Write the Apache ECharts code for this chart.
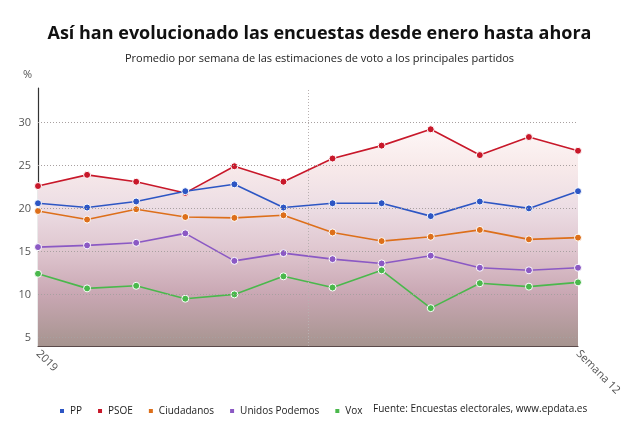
<!DOCTYPE html>
<html>
<head>
<meta charset="utf-8">
<script src="https://cdn.jsdelivr.net/npm/echarts@6/dist/echarts.min.js"></script>
<style>
html,body{margin:0;padding:0;background:#fff;}
#chart{width:639px;height:431px;}
</style>
</head>
<body>
<div id="chart"></div>
<script>
const weeks = [0,1,2,3,4,5,6,7,8,9,10,11];
const xLabels = {0: '2019', 11: 'Semana 12'};
const yTicks = [5,10,15,20,25,30];
const divider = 5.5;

const seriesNames = ['PP','PSOE','Ciudadanos','Unidos Podemos','Vox'];
const pp      = [20.6,20.1,20.8,22.0,22.8,20.1,20.6,20.6,19.1,20.8,20.0,22.0];
const psoe    = [22.6,23.9,23.1,21.8,24.9,23.1,25.8,27.3,29.2,26.2,28.3,26.7];
const cs      = [19.7,18.7,19.9,19.0,18.9,19.2,17.2,16.2,16.7,17.5,16.4,16.6];
const up      = [15.5,15.7,16.0,17.1,13.9,14.8,14.1,13.6,14.5,13.1,12.8,13.1];
const vox     = [12.4,10.7,11.0,9.5,10.0,12.1,10.8,12.8,8.4,11.3,10.9,11.4];
const colors  = ['#2d56c4','#c8182a','#dd6f1a','#8b59c4','#4ab84c'];
const values  = [pp, psoe, cs, up, vox];

const chart = echarts.init(document.getElementById('chart'));
const FONT = 'Open Sans';

const series = seriesNames.map((name, i) => {
  const s = {
    name: name,
    type: 'line',
    data: weeks.map((w, j) => [w, values[i][j]]),
    symbol: 'circle',
    symbolSize: 7,
    z: name === 'PSOE' ? 1 : 3,
    lineStyle: {color: colors[i], width: 1.6},
    itemStyle: {color: colors[i], borderColor: '#fff', borderWidth: 1},
    emphasis: {disabled: true},
    animation: false
  };
  if (name === 'PSOE') {
    s.areaStyle = {
      origin: 'start',
      color: new echarts.graphic.LinearGradient(0, 0, 0, 1, [
        {offset: 0, color: '#fdf6f6'},
        {offset: 0.17, color: '#f8eaea'},
        {offset: 0.36, color: '#ecdde4'},
        {offset: 0.56, color: '#dfc6cf'},
        {offset: 0.76, color: '#c9a7b3'},
        {offset: 1, color: '#a6948f'}
      ]),
      opacity: 1
    };
    s.markLine = {
      silent: true,
      symbol: 'none',
      label: {show: false},
      lineStyle: {color: '#a8a0a0', type: [1, 2], width: 1},
      data: yTicks.map(v => ({yAxis: v})).concat([{xAxis: divider, lineStyle: {color: '#b8b0b0', type: [1, 2]}}]),
      animation: false
    };
  }
  return s;
});

chart.setOption({
  animation: false,
  textStyle: {fontFamily: FONT},
  title: [
    {text: 'Así han evolucionado las encuestas desde enero hasta ahora', left: 'center', top: 20,
     textStyle: {fontFamily: FONT, fontSize: 18, fontWeight: 'bold', color: '#111'}},
    {text: 'Promedio por semana de las estimaciones de voto a los principales partidos', left: 'center', top: 48,
     textStyle: {fontFamily: FONT, fontSize: 11, fontWeight: 'normal', color: '#222'}}
  ],
  grid: {left: 38, right: 61, top: 88, bottom: 85, containLabel: false},
  xAxis: {
    type: 'value', min: 0, max: 11, interval: 11,
    axisLine: {show: true, lineStyle: {color: '#5a4a4a', width: 1.2}},
    axisTick: {show: false},
    splitLine: {show: false},
    axisLabel: {rotate: -45, color: '#555', fontSize: 11, fontFamily: FONT, margin: 6,
      formatter: v => xLabels[v] || ''}
  },
  yAxis: {
    type: 'value', min: 4, max: 34,
    axisLine: {show: true, lineStyle: {color: '#333', width: 1.2}},
    axisTick: {show: false},
    splitLine: {show: false},
    axisLabel: {color: '#555', fontSize: 11, fontFamily: FONT, margin: 7, customValues: yTicks}
  },
  legend: {
    data: seriesNames,
    left: 53, top: 401,
    icon: 'rect', itemWidth: 6, itemHeight: 6, itemGap: 14,
    textStyle: {fontFamily: FONT, fontSize: 10, color: '#222'},
    selectedMode: false
  },
  graphic: [
    {type: 'text', left: 373, top: 404,
     style: {text: 'Fuente: Encuestas electorales, www.epdata.es', fontFamily: FONT, fontSize: 10, fill: '#222'}},
    {type: 'text', left: 23, top: 69,
     style: {text: '%', fontFamily: FONT, fontSize: 11, fill: '#555'}}
  ],
  series: series
});
</script>
</body>
</html>
